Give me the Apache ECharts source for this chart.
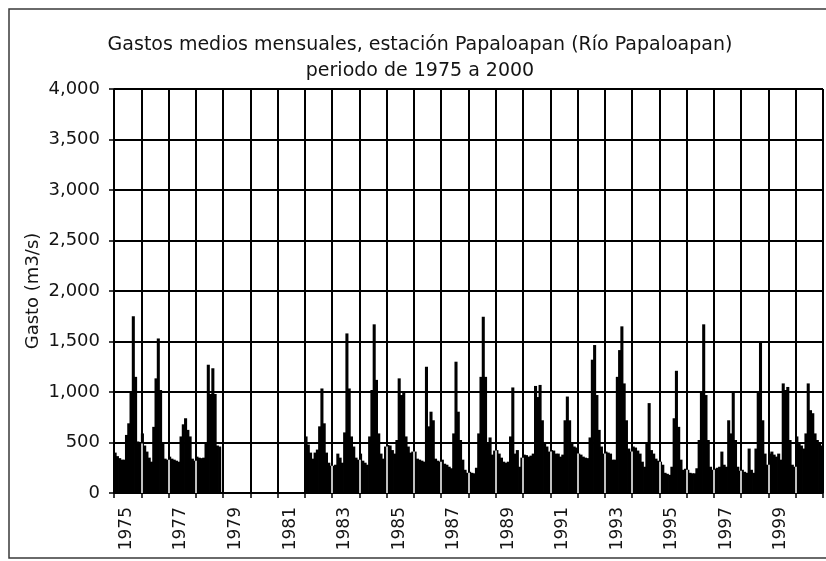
<!DOCTYPE html>
<html>
<head>
<meta charset="utf-8">
<script src="https://cdn.jsdelivr.net/npm/echarts@6/dist/echarts.min.js"></script>
<style>
html,body{margin:0;padding:0;background:#fff;}
#chart{width:826px;height:561px;}
</style>
</head>
<body>
<div id="chart"></div>
<script>
// ---- data (monthly mean discharge, m3/s) ----
const titleText = 'Gastos medios mensuales, estación Papaloapan (Río Papaloapan)\nperiodo de 1975 a 2000';
const yAxisName = 'Gasto (m3/s)';
const years = [1975,1976,1977,1978,1979,1980,1981,1982,1983,1984,1985,1986,1987,
               1988,1989,1990,1991,1992,1993,1994,1995,1996,1997,1998,1999,2000];
const q1975 = [400, 365, 345, 330, 330, 575, 690, 990, 1750, 1150, 510, 490];
const q1976 = [590, 470, 410, 350, 310, 655, 1135, 1530, 1020, 490, 340, 330];
const q1977 = [360, 340, 330, 320, 310, 560, 680, 740, 625, 560, 340, 320];
const q1978 = [360, 350, 345, 350, 490, 1270, 980, 1235, 980, 470, 460, null];
const q1979 = [null, null, null, null, null, null, null, null, null, null, null, null];
const q1980 = [null, null, null, null, null, null, null, null, null, null, null, null];
const q1981 = [null, null, null, null, null, null, null, null, null, null, null, null];
const q1982 = [560, 480, 400, 340, 400, 430, 660, 1035, 690, 400, 300, 270];
const q1983 = [270, 280, 390, 350, 300, 600, 1580, 1035, 560, 460, 350, 330];
const q1984 = [390, 320, 300, 280, 560, 1020, 1670, 1120, 590, 390, 340, 460];
const q1985 = [475, 470, 425, 390, 525, 1135, 970, 990, 560, 460, 400, 410];
const q1986 = [410, 340, 330, 320, 310, 1250, 660, 805, 720, 340, 320, 310];
const q1987 = [330, 290, 280, 260, 245, 590, 1300, 805, 525, 330, 230, 200];
const q1988 = [210, 200, 195, 250, 590, 1150, 1745, 1150, 500, 550, 380, 420];
const q1989 = [425, 390, 350, 310, 300, 310, 560, 1045, 390, 425, 260, 350];
const q1990 = [380, 375, 360, 370, 390, 1060, 950, 1070, 720, 490, 460, 410];
const q1991 = [425, 420, 390, 390, 360, 380, 720, 955, 720, 490, 460, 450];
const q1992 = [390, 380, 360, 350, 345, 550, 1320, 1465, 970, 625, 460, 390];
const q1993 = [410, 400, 390, 330, 330, 1150, 1415, 1650, 1085, 720, 440, 410];
const q1994 = [460, 450, 420, 390, 310, 260, 490, 890, 425, 390, 340, 320];
const q1995 = [310, 280, 200, 190, 180, 260, 740, 1210, 655, 330, 230, 240];
const q1996 = [230, 200, 195, 195, 245, 525, 990, 1670, 970, 525, 260, 230];
const q1997 = [240, 250, 260, 410, 280, 260, 720, 590, 1000, 525, 260, 220];
const q1998 = [230, 210, 200, 440, 230, 200, 440, 990, 1500, 720, 390, 280];
const q1999 = [390, 410, 380, 360, 390, 330, 1085, 1020, 1050, 525, 280, 260];
const q2000 = [560, 490, 470, 440, 590, 1085, 820, 790, 590, 525, 500, 470];
const yTickValues = [0, 500, 1000, 1500, 2000, 2500, 3000, 3500, 4000];

const byYear = [q1975,q1976,q1977,q1978,q1979,q1980,q1981,q1982,q1983,q1984,q1985,q1986,q1987,
                q1988,q1989,q1990,q1991,q1992,q1993,q1994,q1995,q1996,q1997,q1998,q1999,q2000];

// ---- build category table ----
const months = [];
const values = [];
years.forEach((y, i) => {
  byYear[i].forEach((v, m) => {
    months.push(y + '-' + String(m + 1).padStart(2, '0'));
    values.push(v);
  });
});
const nMonths = months.length;

// white separators inside the filled area at each year boundary
const sepSegments = [];
for (let k = 12; k < nMonths; k += 12) {
  const a = values[k - 1], b = values[k];
  if (a != null && b != null) {
    sepSegments.push([{ coord: [k, 0] }, { coord: [k, Math.min(a, b)] }]);
  }
}

const FONT = 'DejaVu Sans';
const chart = echarts.init(document.getElementById('chart'), null, { renderer: 'canvas' });
chart.setOption({
  animation: false,
  backgroundColor: '#ffffff',
  title: {
    text: titleText,
    left: 420,
    top: 32,
    padding: 0,
    textAlign: 'center',
    textStyle: { fontFamily: FONT, fontSize: 19, fontWeight: 'normal', color: '#141414', lineHeight: 26 }
  },
  graphic: [{
    type: 'rect',
    shape: { x: 9, y: 9, width: 840, height: 549 },
    style: { fill: 'none', stroke: '#3a3a3a', lineWidth: 1.5 },
    silent: true, z: 0
  }],
  grid: { left: 114, right: 3, top: 89, bottom: 68, containLabel: false },
  xAxis: [{
    type: 'category',
    data: months,
    boundaryGap: true,
    axisLine: { show: true, lineStyle: { color: '#000', width: 1.5 } },
    axisTick: { show: true, length: 5, interval: (i) => i % 12 === 0, lineStyle: { color: '#000', width: 1.5 } },
    splitLine: { show: false },
    axisLabel: {
      interval: (i) => i % 24 === 5,
      rotate: 90,
      margin: 14,
      fontFamily: FONT, fontSize: 17, color: '#141414',
      formatter: (v) => v.slice(0, 4)
    }
  }, {
    type: 'value',
    min: 0,
    max: nMonths,
    interval: 12,
    position: 'top',
    axisLine: { show: false },
    axisTick: { show: false },
    axisLabel: { show: false },
    splitLine: { show: true, lineStyle: { color: '#000', width: 2 } }
  }],
  yAxis: {
    type: 'value',
    min: yTickValues[0],
    max: yTickValues[yTickValues.length - 1],
    interval: 500,
    name: yAxisName,
    nameLocation: 'middle',
    nameRotate: 90,
    nameGap: 72,
    nameMoveOverlap: false,
    nameTextStyle: { fontFamily: FONT, fontSize: 18, color: '#141414' },
    axisLine: { show: true, lineStyle: { color: '#000', width: 1.5 } },
    axisTick: { show: true, length: 5, lineStyle: { color: '#000', width: 1.5 } },
    splitLine: { show: true, lineStyle: { color: '#000', width: 2 } },
    axisLabel: {
      margin: 14,
      fontFamily: FONT, fontSize: 18, color: '#141414',
      formatter: (v) => v.toLocaleString('en-US')
    }
  },
  series: [{
    type: 'bar',
    xAxisIndex: 0,
    data: values,
    barWidth: '135%',
    barGap: '-100%',
    itemStyle: { color: '#000' },
    z: 3
  }, {
    type: 'line',
    xAxisIndex: 1,
    data: [],
    silent: true,
    z: 5,
    markLine: {
      silent: true,
      symbol: ['none', 'none'],
      label: { show: false },
      lineStyle: { color: '#fff', width: 1.5, type: 'solid' },
      emphasis: { disabled: true },
      animation: false,
      data: sepSegments
    }
  }]
});
</script>
</body>
</html>
